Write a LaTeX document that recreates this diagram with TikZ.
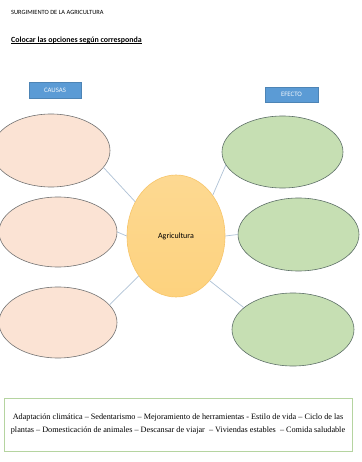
\documentclass[tikz,border=0pt]{standalone}
\usepackage{fontspec}
\setmainfont{Carlito}
\newfontfamily\timesf{Liberation Serif}
\usetikzlibrary{shapes.geometric}
\definecolor{causefill}{HTML}{FBE3D4}
\definecolor{effectfill}{HTML}{C6DFB3}
\definecolor{centerfill}{HTML}{FDD27E}
\definecolor{centerdraw}{HTML}{F7C56A}
\definecolor{boxblue}{HTML}{5B9BD5}
\definecolor{linkc}{HTML}{AFC2D6}
\definecolor{framegreen}{HTML}{B5D4A0}
\definecolor{effdraw}{HTML}{5E7068}
\tikzset{
  cause/.style={ellipse, draw=black!55, fill=causefill, line width=0.6pt, inner sep=0pt},
  effect/.style={ellipse, draw=effdraw, fill=effectfill, line width=0.6pt, inner sep=0pt},
  hub/.style={ellipse, draw=centerdraw, top color=centerfill!85!white, bottom color=centerfill, line width=0.6pt, inner sep=0pt, minimum width=98pt, minimum height=122pt, font=\fontsize{8}{10}\selectfont},
  tag/.style={fill=boxblue, draw=boxblue!85!black, line width=0.3pt, text=white!92!boxblue, font=\fontsize{6.8}{8}\selectfont, inner sep=0pt},
  link/.style={draw=linkc, line width=0.7pt},
}
\begin{document}
\begin{tikzpicture}[x=1pt,y=-1pt]
\useasboundingbox (0,0) rectangle (361,462);
\clip (0,0) rectangle (361,462);
\fill[white] (0,0) rectangle (361,462);
% titles
\node[anchor=west, inner sep=0pt, font=\fontsize{6.4}{8}\selectfont] (title) at (11,12) {SURGIMIENTO DE LA AGRICULTURA};
\node[anchor=west, inner sep=0pt, font=\fontsize{7.9}{9}\selectfont\bfseries] (instr) at (11,40) {Colocar las opciones según corresponda};
\draw[line width=0.5pt] (instr.base west) ++(0,1.3) coordinate (ul1) -- (instr.east |- ul1) coordinate (ul2);
% headers
\node[tag, minimum width=52pt, minimum height=16pt] (causas) at (55,90) {CAUSAS};
\node[tag, minimum width=53pt, minimum height=15pt] (efecto) at (291.5,94.5) {EFECTO};
% center
\node[hub] (C) at (176,236) {Agricultura};
% causes
\node[cause, minimum width=118pt, minimum height=73pt] (E1) at (51,150.5) {};
\node[cause, minimum width=118pt, minimum height=70pt] (E2) at (58,232) {};
\node[cause, minimum width=118pt, minimum height=71pt] (E3) at (58,322.5) {};
% effects
\node[effect, minimum width=121pt, minimum height=72pt] (R1) at (282.5,152) {};
\node[effect, minimum width=121pt, minimum height=73pt] (R2) at (298.5,234.5) {};
\node[effect, minimum width=122pt, minimum height=73pt] (R3) at (293,329.5) {};
% links
\draw[link] (E1.342) -- (C.140);
\draw[link] (E2.east) -- (C.west);
\draw[link] (E3.19) -- (C.227);
\draw[link] (C.48) -- (R1.193);
\draw[link] (C.east) -- (R2.west);
\draw[link] (C.307) -- (R3.156);
% word bank
\node[draw=framegreen, line width=0.6pt, minimum width=348pt, minimum height=53pt, inner sep=0pt] (bank) at (178,424.5) {};
\node[align=center, inner sep=0pt, font=\timesf\fontsize{8.2}{13}\selectfont] (words) at (bank.center) {Adaptación climática – Sedentarismo – Mejoramiento de herramientas - Estilo de vida – Ciclo de las\\plantas – Domesticación de animales – Descansar de viajar\ \ – Viviendas estables\ \ – Comida saludable};
\end{tikzpicture}
\end{document}
